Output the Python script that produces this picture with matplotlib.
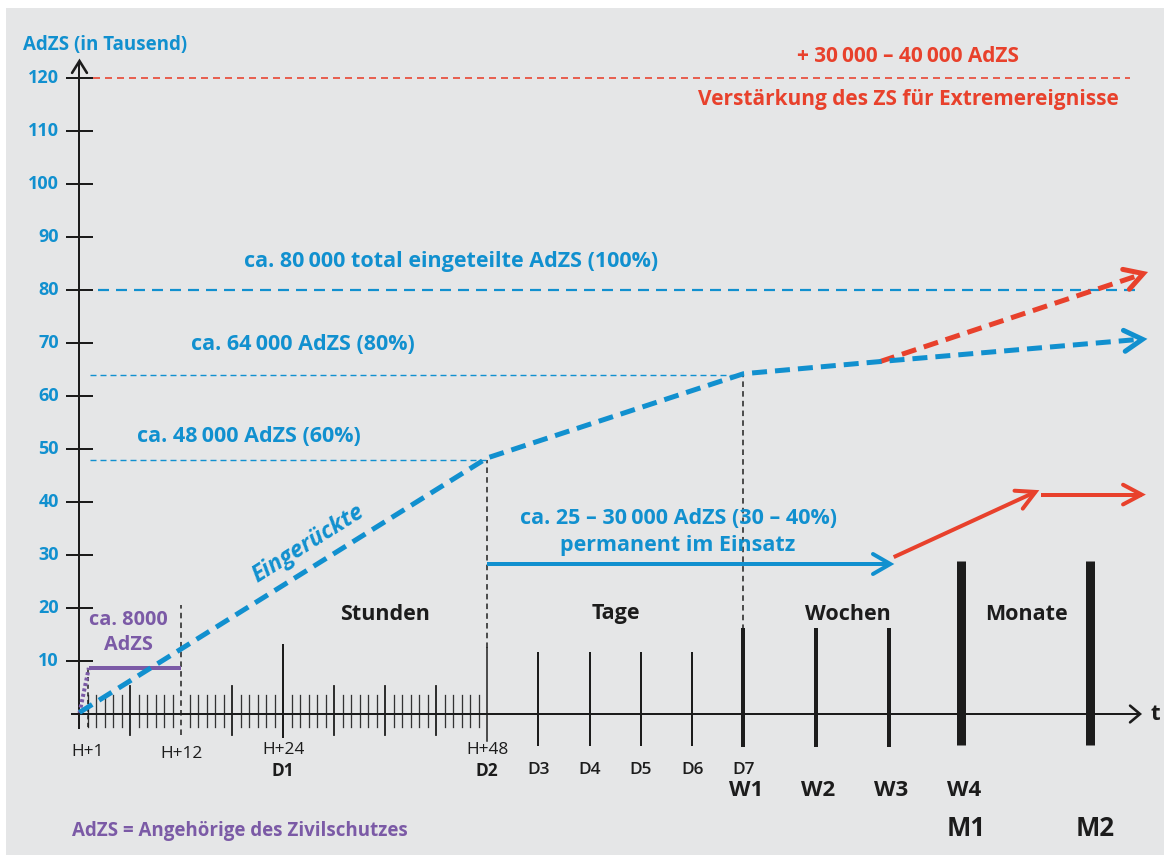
import numpy as np
import matplotlib
matplotlib.use("Agg")
import matplotlib.pyplot as plt
from matplotlib.patches import Rectangle

plt.rcParams['font.family'] = ['Open Sans', 'DejaVu Sans']
plt.rcParams['lines.scale_dashes'] = False

# ---------------- data ----------------
y_ticks = [10, 20, 30, 40, 50, 60, 70, 80, 90, 100, 110, 120]
hour_minor = list(range(1, 48))
hour_major = [6, 18, 30, 36, 42]
day_labels = ['D3', 'D4', 'D5', 'D6', 'D7']
day_numbers = [3, 4, 5, 6, 7]
week_labels = ['W1', 'W2', 'W3', 'W4']
week_numbers = [1, 2, 3, 4]
month_labels = ['M1', 'M2']

# Eingerückte (x in time-scale units, y in thousand AdZS)
eing_x = [0, 48, 78.2, 94.3, 124.9]
eing_y = [0.3, 48.3, 64.2, 66.5, 70.7]
# Extreme reinforcement branch
extreme_x = [94.3, 125.0]
extreme_y = [66.5, 82.9]
# permanent im Einsatz
perm_x = [48, 95.5]
perm_y = [28.3, 28.3]
# red continuation
red1_x = [95.9, 112.6]
red1_y = [29.6, 41.9]
red2_x = [113.2, 125.1]
red2_y = [41.4, 41.4]
# ca. 8000 AdZS (purple)
purple_dot_x = [0, 1.1]
purple_dot_y = [0.2, 8.7]
purple_x = [1.1, 11.9]
purple_y = [8.7, 8.7]

levels = {'total': 80, 'p80': 64, 'p60': 48, 'extreme': 120}

# ---------------- scale helpers ----------------
def t_day(d):
    return 48 + (d - 2) * 6.04

def t_week(w):
    return t_day(7) + (w - 1) * 8.55

T_M1 = t_week(4)
T_M2 = 119.0

BLUE = '#1190cf'
RED = '#e8412c'
PURPLE = '#7b5aa6'
BLACK = '#1c1c1c'
BG = '#e5e6e7'

W, H = 1164, 857
fig = plt.figure(figsize=(W / 100, H / 100), dpi=100)
fig.patch.set_facecolor('white')
ax = fig.add_axes([0, 0, 1, 1])
ax.axis('off')
KX, X0 = 8.49, 79.5
KY, Y0 = 5.3, 714
ax.set_xlim((0 - X0) / KX, (W - X0) / KX)
ax.set_ylim((Y0 - H) / KY, (Y0 - 0) / KY)


def X(px):
    return (px - X0) / KX


def Y(py):
    return (Y0 - py) / KY


def P(v):  # px to points
    return v * 0.72


# background panel
ax.add_patch(Rectangle((X(6), Y(855)), X(1164) - X(6), Y(8) - Y(855),
                       facecolor=BG, edgecolor='none', zorder=0))


def chevron(x_tip, y_tip, x_from, y_from, color, arm_px, half_deg, lw_px, z=5):
    tr = ax.transData
    tip = tr.transform((x_tip, y_tip))
    frm = tr.transform((x_from, y_from))
    d = frm - tip
    d = d / np.hypot(*d)
    pts = []
    for s in (1, -1):
        a = np.deg2rad(half_deg) * s
        rot = np.array([[np.cos(a), -np.sin(a)], [np.sin(a), np.cos(a)]])
        pts.append(tip + rot @ d * arm_px)
    disp = np.array([pts[0], tip, pts[1]])
    dat = tr.inverted().transform(disp)
    ax.plot(dat[:, 0], dat[:, 1], color=color, lw=P(lw_px), solid_capstyle='round',
            solid_joinstyle='miter', zorder=z)


# ---------------- axes ----------------
ax.plot([0, 0], [-2.7, Y(63)], color=BLACK, lw=P(2), zorder=3)
chevron(0, Y(61), 0, 0, BLACK, 14, 32, 2.6, z=3)
ax.plot([X(72), X(1139)], [0, 0], color=BLACK, lw=P(2), zorder=3)
chevron(X(1140), 0, 0, 0, BLACK, 13, 40, 2.6, z=3)
ax.text(X(1155), Y(714), 't', color=BLACK, fontsize=16, fontweight='bold',
        ha='center', va='center')

for v in y_ticks:
    ax.plot([X(67), X(92)], [v, v], color=BLACK, lw=P(2), zorder=3)
    ax.text(X(59), v, str(v), color=BLUE, fontsize=13, fontweight='bold',
            ha='right', va='center')
ax.text(X(23), Y(45), 'AdZS (in Tausend)', color=BLUE, fontsize=13.5,
        fontweight='bold', ha='left', va='center')

# hour ticks
for h in hour_minor:
    if h in hour_major or h in (12, 24):
        continue
    ax.plot([h, h], [-2.4, 3.6], color='#333333', lw=P(1.3), zorder=2)
for h in hour_major:
    ax.plot([h, h], [-4.0, 5.2], color=BLACK, lw=P(1.8), zorder=2)
ax.plot([24, 24], [-4.3, 13.0], color=BLACK, lw=P(2), zorder=2)
ax.plot([12, 12], [-4.0, 20.5], color=BLACK, lw=P(1.5), dashes=(4, 3), zorder=2)
ax.plot([1, 1], [-2.4, 8.5], color=BLACK, lw=P(1.5), dashes=(3, 2.5), zorder=2)
# D2 / H+48
ax.plot([48, 48], [-5.1, 12.5], color=BLACK, lw=P(1.5), zorder=2)
ax.plot([48, 48], [12.5, levels['p60']], color=BLACK, lw=P(1.5), dashes=(4, 3), zorder=2)
# days
for d in day_numbers[:-1]:
    ax.plot([t_day(d)] * 2, [-5.8, 11.5], color=BLACK, lw=P(2), zorder=2)
# weeks
for w in week_numbers[:-1]:
    ax.plot([t_week(w)] * 2, [-5.8, 15.8], color=BLACK, lw=P(4), zorder=2)
ax.plot([t_week(1)] * 2, [15.8, levels['p80']], color=BLACK, lw=P(1.5), dashes=(4, 3), zorder=2)
# months
for t in (T_M1, T_M2):
    ax.plot([t, t], [-5.8, 28.9], color=BLACK, lw=P(9), solid_capstyle='butt', zorder=2)

# x labels
FS_X = 12.4
ax.text(1, Y(752), 'H+1', fontsize=FS_X, color=BLACK, ha='center', va='center')
ax.text(12, Y(754), 'H+12', fontsize=FS_X, color=BLACK, ha='center', va='center')
ax.text(24, Y(750), 'H+24', fontsize=FS_X, color=BLACK, ha='center', va='center')
ax.text(24, Y(771), 'D1', fontsize=FS_X, color=BLACK, fontweight='bold', ha='center', va='center')
ax.text(48, Y(750), 'H+48', fontsize=FS_X, color=BLACK, ha='center', va='center')
ax.text(48, Y(771), 'D2', fontsize=FS_X, color=BLACK, fontweight='bold', ha='center', va='center')
for lab, d in zip(day_labels, day_numbers):
    ax.text(t_day(d), Y(770), lab, fontsize=FS_X, color=BLACK, fontweight='semibold',
            ha='center', va='center')
for lab, w in zip(week_labels, week_numbers):
    ax.text(t_week(w) + 0.3, Y(790), lab, fontsize=16, color=BLACK, fontweight='bold',
            ha='center', va='center')
for lab, t in zip(month_labels, (T_M1, T_M2)):
    ax.text(t + 0.6, Y(828), lab, fontsize=18.5, color=BLACK, fontweight='bold',
            ha='center', va='center')

for lab, px in (('Stunden', 385), ('Tage', 616), ('Wochen', 848), ('Monate', 1026)):
    ax.text(X(px), Y(614), lab, fontsize=15.5, color=BLACK, fontweight='bold',
            ha='center', va='center')

# ---------------- reference levels ----------------
ax.plot([X(93), X(1130)], [levels['extreme']] * 2, color=RED, lw=P(1.6), dashes=(P(7), P(5)), zorder=3)
ax.plot([X(98), X(1135)], [levels['total']] * 2, color=BLUE, lw=P(2.2), dashes=(P(11), P(7)), zorder=3)
ax.plot([X(90), t_week(1)], [levels['p80']] * 2, color=BLUE, lw=P(1.4), dashes=(P(6), P(4)), zorder=3)
ax.plot([X(90), 48], [levels['p60']] * 2, color=BLUE, lw=P(1.4), dashes=(P(6), P(4)), zorder=3)

FS_B = 15.5
ax.text(X(908), Y(57), '+ 30\u2009000 – 40\u2009000 AdZS', color=RED, fontsize=15,
        fontweight='bold', ha='center', va='center')
ax.text(X(908), Y(99), 'Verstärkung des ZS für Extremereignisse', color=RED, fontsize=15,
        fontweight='bold', ha='center', va='center')
ax.text(X(451), Y(262), 'ca. 80\u2009000 total eingeteilte AdZS (100%)', color=BLUE,
        fontsize=FS_B, fontweight='bold', ha='center', va='center')
ax.text(X(303), Y(345), 'ca. 64\u2009000 AdZS (80%)', color=BLUE,
        fontsize=FS_B, fontweight='bold', ha='center', va='center')
ax.text(X(249), Y(437), 'ca. 48\u2009000 AdZS (60%)', color=BLUE,
        fontsize=FS_B, fontweight='bold', ha='center', va='center')
ax.text(X(679), Y(519), 'ca. 25 – 30\u2009000 AdZS (30 – 40%)', color=BLUE,
        fontsize=FS_B, fontweight='bold', ha='center', va='center')
ax.text(X(678), Y(545), 'permanent im Einsatz', color=BLUE,
        fontsize=FS_B, fontweight='bold', ha='center', va='center')

# ---------------- series ----------------
ax.plot(extreme_x, extreme_y, color=RED, lw=P(5), dashes=(P(15), P(8)), zorder=4)
chevron(extreme_x[-1] + 0.3, extreme_y[-1] + 0.2, extreme_x[0], extreme_y[0], RED, 21, 30, 5, z=4)
ax.plot(eing_x, eing_y, color=BLUE, lw=P(5), dashes=(P(15), P(8)), zorder=5)
chevron(eing_x[-1] + 0.3, eing_y[-1], eing_x[-2], eing_y[-2], BLUE, 21, 30, 5)

ax.plot(perm_x, perm_y, color=BLUE, lw=P(4), solid_capstyle='butt', zorder=4)
chevron(perm_x[-1], perm_y[-1], perm_x[0], perm_y[0], BLUE, 20, 30, 4)
ax.plot(red1_x, red1_y, color=RED, lw=P(4), solid_capstyle='butt', zorder=4)
chevron(red1_x[-1], red1_y[-1], red1_x[0], red1_y[0], RED, 21, 28, 4)
ax.plot(red2_x, red2_y, color=RED, lw=P(4), solid_capstyle='butt', zorder=4)
chevron(red2_x[-1], red2_y[-1], red2_x[0], red2_y[0], RED, 21, 28, 4)

ax.plot(purple_dot_x, purple_dot_y, color=PURPLE, lw=P(4), dashes=(P(3), P(2.5)), zorder=4)
ax.plot(purple_x, purple_y, color=PURPLE, lw=P(4), solid_capstyle='butt', zorder=4)

ax.text(X(308), Y(544), 'Eingerückte', color=BLUE, fontsize=16.5, fontweight='bold',
        fontstyle='italic', rotation=32, rotation_mode='anchor', ha='center', va='center')
ax.text(X(128), Y(620), 'ca. 8000', color=PURPLE, fontsize=14.3, fontweight='bold',
        ha='center', va='center')
ax.text(X(128), Y(645), 'AdZS', color=PURPLE, fontsize=14.3, fontweight='bold',
        ha='center', va='center')
ax.text(X(72), Y(831), 'AdZS = Angehörige des Zivilschutzes', color=PURPLE, fontsize=13.5,
        fontweight='bold', ha='left', va='center')

fig.savefig('out.png', dpi=100, facecolor='white')
